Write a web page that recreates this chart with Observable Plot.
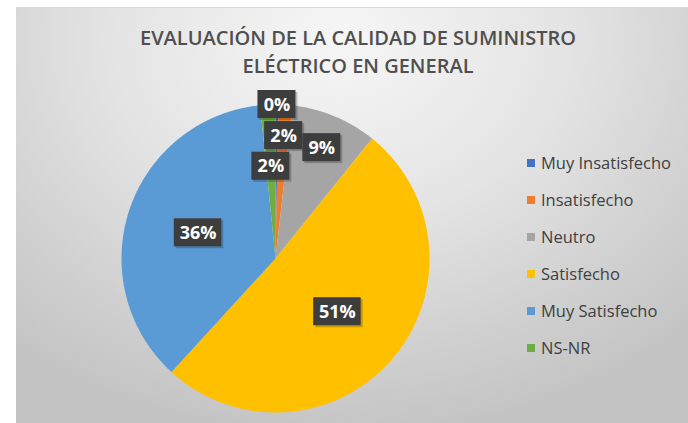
<!DOCTYPE html>
<html><head><meta charset="utf-8">
<script src="https://cdn.jsdelivr.net/npm/d3@7"></script>
<script src="https://cdn.jsdelivr.net/npm/@observablehq/plot@0.6"></script>
<style>
html,body{margin:0;padding:0;background:#fff;}
#wrap{position:relative;width:688px;height:423px;overflow:hidden;font-family:"Open Sans",sans-serif;}
#panel{position:absolute;left:16px;top:7px;width:672px;height:416px;
  background:radial-gradient(ellipse 75% 95% at 48% 8%, #f6f6f6 0%, #e4e4e4 45%, #cfcfcf 80%, #c4c4c4 100%);
  border-top:1px solid #d8d8d8;}
#title{position:absolute;left:16px;width:684px;top:24px;text-align:center;color:#4f4f4f;font-size:20px;line-height:28px;font-weight:600;white-space:nowrap;}
#chart{position:absolute;left:0;top:0;}
#legend{position:absolute;left:527px;top:144px;color:#404040;font-size:16.5px;}
#legend .row{height:37px;display:flex;align-items:center;white-space:nowrap;}
#legend .sw{width:8px;height:8px;margin-right:6px;flex:none;}
</style></head>
<body>
<div id="wrap">
  <div id="panel"></div>
  <div id="title"></div>
  <div id="chart"></div>
  <div id="legend"></div>
</div>
<script>
const titleLines = ["EVALUACIÓN DE LA CALIDAD DE SUMINISTRO", "ELÉCTRICO EN GENERAL"];
const categories = ["Muy Insatisfecho", "Insatisfecho", "Neutro", "Satisfecho", "Muy Satisfecho", "NS-NR"];
const values = [0.3, 1.5, 9.0, 51.0, 36.6, 1.6];
const labels = ["0%", "2%", "9%", "51%", "36%", "2%"];
const colors = ["#4472C4", "#ED7D31", "#A5A5A5", "#FFC000", "#5B9BD5", "#70AD47"];

document.getElementById("title").innerHTML = titleLines.map(t => `<div>${t}</div>`).join("");

const cx = 275, cy = 258, R = 154;
const total = d3.sum(values);
let cum = 0;
const slices = values.map((v, i) => {
  const a0 = cum / total * 2 * Math.PI;
  cum += v;
  const a1 = cum / total * 2 * Math.PI;
  return {cat: categories[i], v, a0, a1, label: labels[i]};
});

// polygon outline of each slice (geometry sampling of the arc)
const pts = [];
for (const s of slices) {
  pts.push({cat: s.cat, x: 0, y: 0});
  const n = Math.max(2, Math.ceil((s.a1 - s.a0) / (Math.PI / 360)));
  for (let k = 0; k <= n; k++) {
    const a = s.a0 + (s.a1 - s.a0) * k / n;
    pts.push({cat: s.cat, x: Math.sin(a), y: Math.cos(a)});
  }
  pts.push({cat: s.cat, x: 0, y: 0});
}

// label placement: small slices stacked radially, medium further out, big inside
let smallK = 0;
const lab = slices.map(s => {
  const share = s.v / total;
  let r;
  if (share < 0.03) { r = 1.0 - 0.2 * smallK; smallK++; }
  else if (share < 0.2) r = 0.78;
  else r = 0.53;
  const a = (s.a0 + s.a1) / 2;
  const w = s.label.length * 9.5 + 19;
  const h = 28;
  return {text: s.label, x: r * Math.sin(a), y: r * Math.cos(a), w: w / R, h: h / R};
});

const chart = Plot.plot({
  width: 688, height: 423, margin: 0,
  x: {domain: [-1, 1], range: [cx - R, cx + R], axis: null},
  y: {domain: [-1, 1], range: [cy + R, cy - R], axis: null},
  color: {domain: categories, range: colors},
  style: {background: "transparent", overflow: "visible"},
  marks: [
    Plot.line(pts, {x: "x", y: "y", z: "cat", fill: "cat", stroke: null, curve: "linear"}),
    Plot.rect(lab, {x1: d => d.x - d.w / 2, x2: d => d.x + d.w / 2, y1: d => d.y - d.h / 2, y2: d => d.y + d.h / 2, fill: "#000", fillOpacity: 0.22, dx: 2, dy: 2}),
    Plot.rect(lab, {x1: d => d.x - d.w / 2, x2: d => d.x + d.w / 2, y1: d => d.y - d.h / 2, y2: d => d.y + d.h / 2, fill: "#3d3d3d"}),
    Plot.text(lab, {x: "x", y: "y", text: "text", fill: "white", fontSize: 18, fontWeight: "bold", fontFamily: "Open Sans", dy: 0.5})
  ]
});
document.getElementById("chart").appendChild(chart);

const colorScale = chart.scale("color");
document.getElementById("legend").innerHTML = categories.map((c, i) =>
  `<div class="row"><span class="sw" style="background:${colorScale.range[i]}"></span><span>${c}</span></div>`
).join("");
</script>
</body></html>
